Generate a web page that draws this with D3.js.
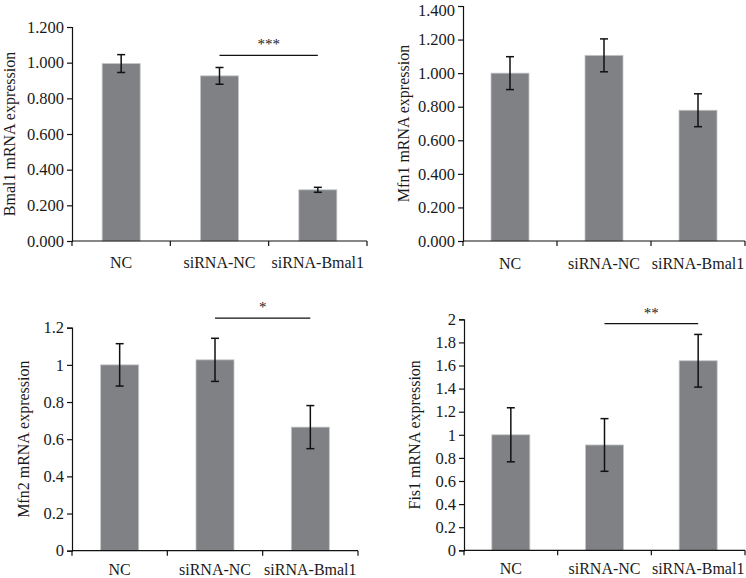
<!DOCTYPE html>
<html>
<head>
<meta charset="utf-8">
<script src="https://cdn.jsdelivr.net/npm/d3@7"></script>
<style>
  html, body { margin: 0; padding: 0; background: #fff; }
  svg { display: block; }
  text { font-family: "Liberation Serif", "Times New Roman", serif; fill: #1a1a1a; }
</style>
</head>
<body>
<svg id="chart" width="746" height="578"></svg>
<script>
const categories = ["NC", "siRNA-NC", "siRNA-Bmal1"];

const bmal1Values = [0.995, 0.926, 0.287];
const bmal1Errors = [0.050, 0.047, 0.014];
const bmal1Ticks = [0, 0.2, 0.4, 0.6, 0.8, 1.0, 1.2];

const mfn1Values = [1.000, 1.106, 0.779];
const mfn1Errors = [0.098, 0.098, 0.098];
const mfn1Ticks = [0, 0.2, 0.4, 0.6, 0.8, 1.0, 1.2, 1.4];

const mfn2Values = [1.000, 1.027, 0.665];
const mfn2Errors = [0.114, 0.116, 0.116];
const mfn2Ticks = [0, 0.2, 0.4, 0.6, 0.8, 1.0, 1.2];

const fis1Values = [1.000, 0.912, 1.641];
const fis1Errors = [0.234, 0.228, 0.228];
const fis1Ticks = [0, 0.2, 0.4, 0.6, 0.8, 1.0, 1.2, 1.4, 1.6, 1.8, 2.0];

const yLabels = ["Bmal1 mRNA expression", "Mfn1 mRNA expression", "Mfn2 mRNA expression", "Fis1 mRNA expression"];
const sigMarks = ["***", null, "*", "**"];
const sigLevels = [1.041, null, 1.252, 1.962];

const panels = [
  { values: bmal1Values, errors: bmal1Errors, ticks: bmal1Ticks, fmt: d3.format(".3f"), label: yLabels[0], sig: sigMarks[0], sigY: sigLevels[0],
    x0: 72, x1: 367, yTop: 27, yBot: 241, labelX: 15, catY: 27 },
  { values: mfn1Values, errors: mfn1Errors, ticks: mfn1Ticks, fmt: d3.format(".3f"), label: yLabels[1], sig: sigMarks[1], sigY: sigLevels[1],
    x0: 463, x1: 745, yTop: 6, yBot: 241, labelX: 409, catY: 28 },
  { values: mfn2Values, errors: mfn2Errors, ticks: mfn2Ticks, fmt: d3.format("~g"), label: yLabels[2], sig: sigMarks[2], sigY: sigLevels[2],
    x0: 72, x1: 358, yTop: 327.7, yBot: 550.7, labelX: 29, catY: 24 },
  { values: fis1Values, errors: fis1Errors, ticks: fis1Ticks, fmt: d3.format("~g"), label: yLabels[3], sig: sigMarks[3], sigY: sigLevels[3],
    x0: 464, x1: 745, yTop: 319.3, yBot: 550.3, labelX: 420, catY: 24 }
];

const svg = d3.select("#chart");
const barW = 38;

panels.forEach(p => {
  const g = svg.append("g");
  const step = (p.x1 - p.x0) / categories.length;
  const pad = 1 - barW / step;
  const x = d3.scaleBand().domain(categories).range([p.x0, p.x1]).paddingInner(pad).paddingOuter(pad / 2);
  const y = d3.scaleLinear().domain([0, d3.max(p.ticks)]).range([p.yBot, p.yTop]);

  // bars
  g.selectAll("rect.bar").data(categories).enter().append("rect")
    .attr("class", "bar")
    .attr("x", d => x(d))
    .attr("width", x.bandwidth())
    .attr("y", (d, i) => y(p.values[i]))
    .attr("height", (d, i) => y(0) - y(p.values[i]))
    .attr("fill", "#7f8184")
    .attr("stroke", "#c4c5c7")
    .attr("stroke-width", 0.8);

  // y axis
  const yAxis = d3.axisLeft(y).tickValues(p.ticks).tickFormat(p.fmt).tickSize(5).tickPadding(3);
  const ya = g.append("g").attr("transform", `translate(${p.x0},0)`).call(yAxis);
  ya.select(".domain").attr("stroke", "#111").attr("stroke-width", 1.2);
  ya.selectAll(".tick line").attr("stroke", "#111").attr("stroke-width", 1.2);
  ya.selectAll(".tick text")
    .style("font-family", '"Liberation Serif", serif')
    .style("font-size", "16.5px")
    .attr("fill", "#1a1a1a")
    .attr("dy", d => (y(d) < 12 ? "0.55em" : "0.32em"));

  // x axis: ticks at band boundaries
  const xa = g.append("g").attr("transform", `translate(0,${p.yBot})`);
  xa.append("line").attr("x1", p.x0).attr("x2", p.x1).attr("y1", 0).attr("y2", 0)
    .attr("stroke", "#111").attr("stroke-width", 1.2);
  const bounds = d3.range(categories.length + 1).map(i => p.x0 + i * x.step());
  xa.selectAll("line.bt").data(bounds).enter().append("line")
    .attr("class", "bt")
    .attr("x1", d => d).attr("x2", d => d).attr("y1", 0).attr("y2", 5)
    .attr("stroke", "#111").attr("stroke-width", 1.2);
  xa.selectAll("text.cat").data(categories).enter().append("text")
    .attr("class", "cat")
    .attr("x", d => x(d) + x.bandwidth() / 2)
    .attr("y", p.catY)
    .attr("text-anchor", "middle")
    .style("font-size", "16px")
    .text(d => d);

  // error bars
  const cap = 4;
  categories.forEach((c, i) => {
    const cx = x(c) + x.bandwidth() / 2;
    const hi = y(p.values[i] + p.errors[i]);
    const lo = y(p.values[i] - p.errors[i]);
    g.append("line").attr("x1", cx).attr("x2", cx).attr("y1", hi).attr("y2", lo).attr("stroke", "#111").attr("stroke-width", 1.5);
    g.append("line").attr("x1", cx - cap).attr("x2", cx + cap).attr("y1", hi).attr("y2", hi).attr("stroke", "#111").attr("stroke-width", 1.5);
    g.append("line").attr("x1", cx - cap).attr("x2", cx + cap).attr("y1", lo).attr("y2", lo).attr("stroke", "#111").attr("stroke-width", 1.5);
  });

  // y label
  const cy = (p.yTop + p.yBot) / 2;
  g.append("text")
    .attr("transform", `translate(${p.labelX},${cy}) rotate(-90)`)
    .attr("text-anchor", "middle")
    .style("font-size", "16px")
    .text(p.label);

  // significance
  if (p.sig) {
    const xa1 = x(categories[1]) + x.bandwidth() / 2;
    const xa2 = x(categories[2]) + x.bandwidth() / 2;
    const sy = y(p.sigY);
    g.append("line").attr("x1", xa1).attr("x2", xa2).attr("y1", sy).attr("y2", sy)
      .attr("stroke", "#111").attr("stroke-width", 1.2);
    g.append("text")
      .attr("x", (xa1 + xa2) / 2)
      .attr("y", sy - 6)
      .attr("text-anchor", "middle")
      .style("font-size", "15px")
      .attr("fill", "#555")
      .text(p.sig);
  }
});
</script>
</body>
</html>
